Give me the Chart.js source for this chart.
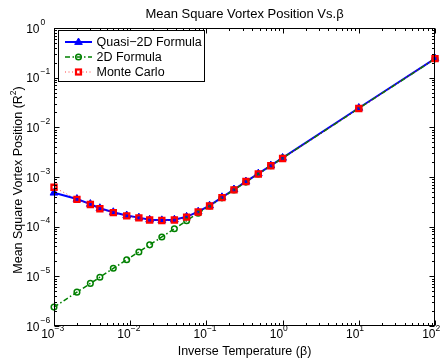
<!DOCTYPE html>
<html>
<head>
<meta charset="utf-8">
<script src="https://cdn.jsdelivr.net/npm/chart.js@4/dist/chart.umd.min.js"></script>
<style>
  html, body { margin: 0; padding: 0; background: #fff; }
  #c { display: block; }
</style>
</head>
<body>
<canvas id="c" width="444" height="361"></canvas>
<script>
// ---- data ----
const beta = [0.001, 0.002, 0.003, 0.004, 0.006, 0.009, 0.013, 0.018, 0.026, 0.038, 0.055, 0.078, 0.11, 0.16, 0.23, 0.33, 0.48, 0.70, 1, 10, 100];
const quasi2D = [4.8e-4, 3.6e-4, 2.85e-4, 2.35e-4, 1.95e-4, 1.68e-4, 1.52e-4, 1.38e-4, 1.34e-4, 1.38e-4, 1.58e-4, 2.0e-4, 2.65e-4, 3.9e-4, 5.6e-4, 8.1e-4, 1.17e-3, 1.7e-3, 2.42e-3, 2.45e-2, 2.42e-1];
const formula2D = [2.4e-6, 4.8e-6, 7.2e-6, 9.6e-6, 1.45e-5, 2.15e-5, 3.1e-5, 4.3e-5, 6.2e-5, 9.1e-5, 1.32e-4, 1.87e-4, 2.6e-4, 3.8e-4, 5.5e-4, 7.9e-4, 1.15e-3, 1.68e-3, 2.4e-3, 2.4e-2, 2.4e-1];
const monteCarlo = [6.2e-4, 3.55e-4, 2.8e-4, 2.3e-4, 1.92e-4, 1.65e-4, 1.5e-4, 1.36e-4, 1.33e-4, 1.36e-4, 1.56e-4, 1.98e-4, 2.6e-4, 3.85e-4, 5.5e-4, 8.1e-4, 1.15e-3, 1.68e-3, 2.36e-3, 2.39e-2, 2.42e-1];
const seriesNames = ['Quasi\u22122D Formula', '2D Formula', 'Monte Carlo'];
const xTickExps = [-3, -2, -1, 0, 1, 2];
const yTickExps = [-6, -5, -4, -3, -2, -1, 0];
const titleText = 'Mean Square Vortex Position Vs.\u03B2';
const xTitleText = 'Inverse Temperature (\u03B2)';
const yTitleText = 'Mean Square Vortex Position (R';

const FONT = '"Liberation Sans", Arial, Helvetica, sans-serif';
const BLUE = '#0000ff', GREEN = '#008000', RED = '#ff0000';

const toPts = (ys) => beta.map((b, i) => ({ x: b, y: ys[i] }));

function drawMarker(ctx, style, x, y) {
  ctx.save();
  ctx.setLineDash([]);
  if (style === 'tri') {
    ctx.fillStyle = BLUE; ctx.strokeStyle = BLUE; ctx.lineWidth = 1;
    const r = 4;
    ctx.beginPath();
    ctx.moveTo(x, y - r);
    ctx.lineTo(x + r * 0.95, y + r * 0.6);
    ctx.lineTo(x - r * 0.95, y + r * 0.6);
    ctx.closePath(); ctx.fill(); ctx.stroke();
  } else if (style === 'circ') {
    ctx.strokeStyle = GREEN; ctx.lineWidth = 1.5;
    ctx.beginPath(); ctx.arc(x, y, 2.8, 0, Math.PI * 2); ctx.stroke();
  } else {
    ctx.strokeStyle = RED; ctx.lineWidth = 2.2;
    ctx.strokeRect(x - 2.5, y - 2.5, 5, 5);
  }
  ctx.restore();
}

const matlabFrame = {
  id: 'matlabFrame',
  afterDatasetsDraw(chart) {
    const ctx = chart.ctx;
    const a = chart.chartArea;
    const xs = chart.scales.x, ys = chart.scales.y;
    ctx.save();
    ctx.setLineDash([]);
    ctx.strokeStyle = '#000';
    ctx.lineWidth = 1;
    const L = Math.round(a.left) + 0.5, R = Math.round(a.right) - 0.5;
    const T = Math.round(a.top) + 0.5, B = Math.round(a.bottom) - 0.5;
    ctx.strokeRect(L, T, R - L, B - T);
    // x ticks (top & bottom, inward)
    ctx.beginPath();
    for (let d = xTickExps[0]; d <= xTickExps[xTickExps.length - 1]; d++) {
      for (let m = 1; m <= 9; m++) {
        const v = m * Math.pow(10, d);
        if (v > xs.max * 1.0001) break;
        const px = Math.round(xs.getPixelForValue(v)) + 0.5;
        const len = m === 1 ? 5 : 2.5;
        ctx.moveTo(px, B); ctx.lineTo(px, B - len);
        ctx.moveTo(px, T); ctx.lineTo(px, T + len);
      }
    }
    for (let d = yTickExps[0]; d <= yTickExps[yTickExps.length - 1]; d++) {
      for (let m = 1; m <= 9; m++) {
        const v = m * Math.pow(10, d);
        if (v > ys.max * 1.0001) break;
        const py = Math.round(ys.getPixelForValue(v)) + 0.5;
        const len = m === 1 ? 5 : 2.5;
        ctx.moveTo(L, py); ctx.lineTo(L + len, py);
        ctx.moveTo(R, py); ctx.lineTo(R - len, py);
      }
    }
    ctx.stroke();

    // tick labels
    ctx.fillStyle = '#000';
    xTickExps.forEach(e => {
      const px = xs.getPixelForValue(Math.pow(10, e));
      ctx.font = '12px ' + FONT;
      ctx.textAlign = 'right'; ctx.textBaseline = 'alphabetic';
      ctx.fillText('10', px + 0.5, 338);
      ctx.font = '8.5px ' + FONT;
      ctx.textAlign = 'left';
      ctx.fillText(String(e).replace('-', '\u2212'), px + 0.5, 331);
    });
    yTickExps.forEach(e => {
      const py = ys.getPixelForValue(Math.pow(10, e));
      ctx.font = '12px ' + FONT;
      ctx.textAlign = 'right'; ctx.textBaseline = 'alphabetic';
      ctx.fillText('10', 39.5, py + 4.5);
      ctx.font = '8.5px ' + FONT;
      ctx.textAlign = 'left';
      ctx.fillText(String(e).replace('-', '\u2212'), 40.5, py - 3.5);
    });

    // title
    const cx = (a.left + a.right) / 2;
    ctx.font = '13px ' + FONT;
    ctx.textAlign = 'center'; ctx.textBaseline = 'alphabetic';
    ctx.fillText(titleText, cx, 17.5);
    // x title
    ctx.font = '12.5px ' + FONT;
    ctx.fillText(xTitleText, cx, 355);
    // y title (rotated)
    ctx.save();
    ctx.translate(22, (a.top + a.bottom) / 2 + 3);
    ctx.rotate(-Math.PI / 2);
    ctx.font = '12.5px ' + FONT;
    const w1 = ctx.measureText(yTitleText).width;
    ctx.font = '8.5px ' + FONT;
    const w2 = ctx.measureText('2').width;
    ctx.font = '12.5px ' + FONT;
    const w3 = ctx.measureText(')').width;
    const tot = w1 + w2 + w3;
    let x0 = -tot / 2;
    ctx.textAlign = 'left';
    ctx.fillText(yTitleText, x0, 0);
    ctx.font = '8.5px ' + FONT;
    ctx.fillText('2', x0 + w1, -6);
    ctx.font = '12.5px ' + FONT;
    ctx.fillText(')', x0 + w1 + w2, 0);
    ctx.restore();
    ctx.restore();
  },
  afterDraw(chart) {
    const ctx = chart.ctx;
    ctx.save();
    ctx.setLineDash([]);
    // legend box
    ctx.fillStyle = '#fff';
    ctx.fillRect(58.5, 30.5, 146, 51);
    ctx.strokeStyle = '#000'; ctx.lineWidth = 1;
    ctx.strokeRect(58.5, 30.5, 146, 51);
    const rows = [42, 57, 72];
    const styles = [
      { c: BLUE, w: 2, dash: [], m: 'tri' },
      { c: GREEN, w: 1.5, dash: [5, 2.5, 1.5, 2.5], m: 'circ' },
      { c: 'rgba(255,0,0,0.75)', w: 1, dash: [1, 2.5], m: 'sq' }
    ];
    rows.forEach((y, i) => {
      const s = styles[i];
      ctx.save();
      ctx.strokeStyle = s.c; ctx.lineWidth = s.w; ctx.setLineDash(s.dash);
      ctx.beginPath(); ctx.moveTo(65, y); ctx.lineTo(92, y); ctx.stroke();
      ctx.restore();
      drawMarker(ctx, s.m, 78.5, y);
      ctx.fillStyle = '#000';
      ctx.font = '12.5px ' + FONT;
      ctx.textAlign = 'left'; ctx.textBaseline = 'middle';
      ctx.fillText(seriesNames[i], 96.5, y + 0.5);
    });
    ctx.restore();
  }
};

new Chart(document.getElementById('c').getContext('2d'), {
  type: 'scatter',
  data: {
    datasets: [
      {
        label: seriesNames[0], data: toPts(quasi2D), showLine: true, order: 3,
        borderColor: BLUE, borderWidth: 2, tension: 0,
        pointStyle: 'triangle', pointRadius: 4.5, pointBackgroundColor: BLUE,
        pointBorderColor: BLUE, pointBorderWidth: 1, clip: false
      },
      {
        label: seriesNames[1], data: toPts(formula2D), showLine: true, order: 2,
        borderColor: GREEN, borderWidth: 1.5, borderDash: [5, 2.5, 1.5, 2.5], tension: 0,
        pointStyle: 'circle', pointRadius: 2.8, pointBackgroundColor: 'rgba(0,0,0,0)',
        pointBorderColor: GREEN, pointBorderWidth: 1.5, clip: false
      },
      {
        label: seriesNames[2], data: toPts(monteCarlo), showLine: true, order: 1,
        borderColor: 'rgba(255,0,0,0.75)', borderWidth: 1, borderDash: [1, 2.5], tension: 0,
        pointStyle: 'rect', pointRadius: 3.6, pointBackgroundColor: 'rgba(0,0,0,0)',
        pointBorderColor: RED, pointBorderWidth: 2.3, clip: false
      }
    ]
  },
  options: {
    responsive: false,
    animation: false,
    devicePixelRatio: 1,
    layout: { padding: { left: 54, right: 9, top: 28, bottom: 35 } },
    plugins: { legend: { display: false }, title: { display: false }, tooltip: { enabled: false } },
    scales: {
      x: { type: 'logarithmic', min: 1e-3, max: 1e2, display: false },
      y: { type: 'logarithmic', min: 1e-6, max: 1, display: false }
    }
  },
  plugins: [matlabFrame]
});
</script>
</body>
</html>
